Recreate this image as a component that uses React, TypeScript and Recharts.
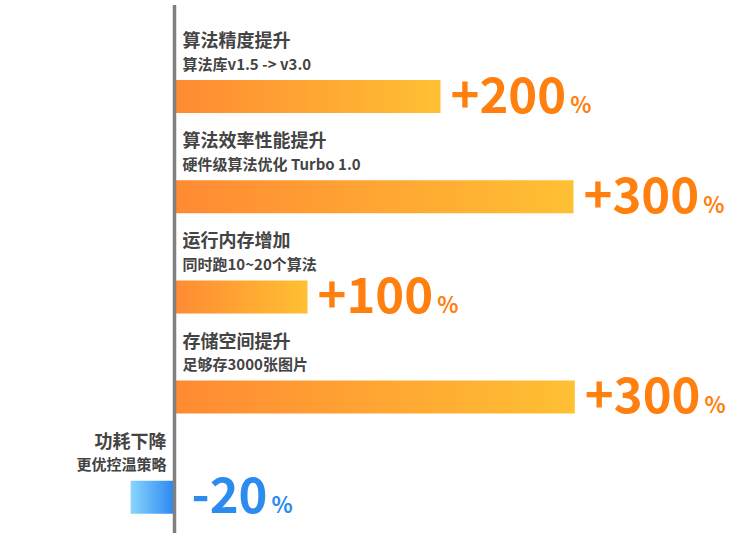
import { BarChart, Bar, XAxis, YAxis, Cell, LabelList, ReferenceLine } from "recharts";

// items, top to bottom
const titles = ["算法精度提升", "算法效率性能提升", "运行内存增加", "存储空间提升", "功耗下降"];
const subtitles = ["算法库v1.5 -> v3.0", "硬件级算法优化 Turbo 1.0", "同时跑10~20个算法", "足够存3000张图片", "更优控温策略"];
// bar lengths as drawn (the -20 bar is drawn longer than scale)
const barLength = [200, 300, 100, 301, -33];
const valueLabels = ["+200", "+300", "+100", "+300", "-20"];

const data = titles.map((name, i) => ({
  name,
  sub: subtitles[i],
  value: barLength[i],
  label: valueLabels[i],
}));

const FONT = "'Noto Sans CJK SC', 'Noto Sans', sans-serif";
const ORANGE = "#ff7f0f";
const BLUE = "#2b8bef";

function TitleLabel(props: any) {
  const { x, y, width, index } = props;
  const neg = data[index].value < 0;
  const axisX = neg ? Math.max(x, x + width) : Math.min(x, x + width);
  const tx = neg ? axisX - 8 : axisX + 8;
  const anchor = neg ? "end" : "start";
  return (
    <g fontFamily={FONT} fontWeight="bold" fill="#444">
      <text x={tx} y={y - 41} fontSize={18} textAnchor={anchor} dominantBaseline="central">
        {data[index].name}
      </text>
      <text x={tx} y={y - 17} fontSize={15} textAnchor={anchor} dominantBaseline="central">
        {data[index].sub}
      </text>
    </g>
  );
}

function ValueLabel(props: any) {
  const { x, y, width, height, index } = props;
  const neg = data[index].value < 0;
  const right = Math.max(x, x + width);
  const tx = right + (neg ? 17 : 10);
  const color = neg ? BLUE : ORANGE;
  return (
    <text x={tx} y={y + height / 2 + 16} fontFamily={FONT} fontWeight="bold" fill={color} fontSize={49}>
      {data[index].label}
      <tspan fontSize={22} dx={4}>%</tspan>
    </text>
  );
}

export default function App() {
  return (
    <div style={{ position: "absolute", left: 0, top: 0, background: "#fff" }}>
      <BarChart
        width={750}
        height={547}
        data={data}
        layout="vertical"
        margin={{ top: 46, right: 110, bottom: 0, left: 41.5 }}
      >
        <defs>
          <linearGradient id="orangeGrad" x1="0" y1="0" x2="1" y2="0">
            <stop offset="0%" stopColor="#ff8a33" />
            <stop offset="100%" stopColor="#ffc033" />
          </linearGradient>
          <linearGradient id="blueGrad" x1="0" y1="0" x2="1" y2="0">
            <stop offset="0%" stopColor="#8ad6fc" />
            <stop offset="100%" stopColor="#2a86f0" />
          </linearGradient>
        </defs>
        <XAxis type="number" domain={[-100, 350]} hide />
        <YAxis type="category" dataKey="name" hide />
        <Bar dataKey="value" barSize={33} isAnimationActive={false}>
          {data.map((d, i) => (
            <Cell key={i} fill={d.value < 0 ? "url(#blueGrad)" : "url(#orangeGrad)"} />
          ))}
          <LabelList dataKey="value" content={TitleLabel} />
          <LabelList dataKey="value" content={ValueLabel} />
        </Bar>
        <ReferenceLine
          x={0}
          ifOverflow="visible"
          shape={(p: any) => (
            <line x1={p.x1} x2={p.x2} y1={5} y2={533} stroke="#808080" strokeWidth={3.5} />
          )}
        />
      </BarChart>
    </div>
  );
}
